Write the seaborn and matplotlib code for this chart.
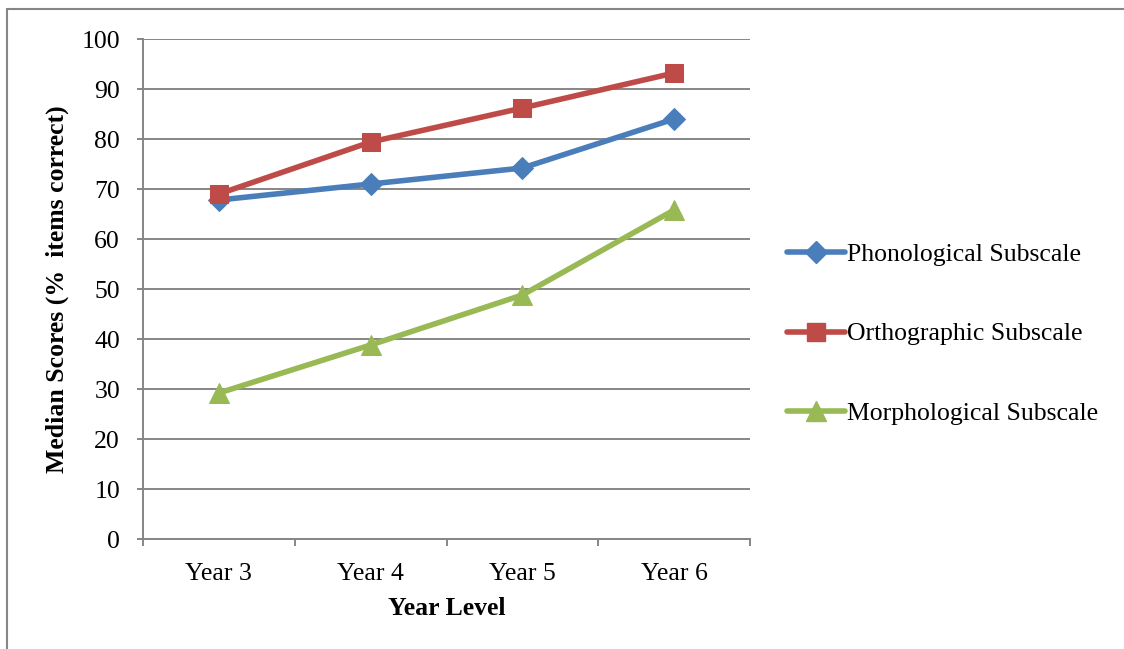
import matplotlib
matplotlib.use("Agg")
import matplotlib.pyplot as plt
from matplotlib.lines import Line2D
import numpy as np
import pandas as pd
import seaborn as sns

years = ["Year 3", "Year 4", "Year 5", "Year 6"]
phonological = [67.8, 71.0, 74.2, 84.0]
orthographic = [69.0, 79.4, 86.2, 93.2]
morphological = [29.2, 38.8, 48.8, 65.8]
series_names = ["Phonological Subscale", "Orthographic Subscale", "Morphological Subscale"]

df = pd.DataFrame({
    "Year": years * 3,
    "Score": phonological + orthographic + morphological,
    "Subscale": np.repeat(series_names, len(years)),
})

sns.set_theme(style="white")
plt.rcParams["font.family"] = ["Liberation Serif", "DejaVu Serif"]
plt.rcParams["text.color"] = "black"
plt.rcParams["axes.labelcolor"] = "black"
plt.rcParams["xtick.color"] = "black"
plt.rcParams["ytick.color"] = "black"

palette = {"Phonological Subscale": "#4A7EBB",
           "Orthographic Subscale": "#BE4B48",
           "Morphological Subscale": "#98B954"}
markers = {"Phonological Subscale": "D",
           "Orthographic Subscale": "s",
           "Morphological Subscale": "^"}
msizes = {"Phonological Subscale": 11,
          "Orthographic Subscale": 13,
          "Morphological Subscale": 15}
lw = 4.0
fs = 18.5

fig = plt.figure(figsize=(11.24, 6.49), dpi=100)
ax = fig.add_axes([143 / 1124, 1 - 539 / 649, (750 - 143) / 1124, 500 / 649])

grid_c = "#868686"
for name in series_names:
    sub = df[df["Subscale"] == name]
    sns.lineplot(data=sub, x="Year", y="Score", ax=ax, color=palette[name],
                 marker=markers[name], markersize=msizes[name],
                 markeredgecolor=palette[name], linewidth=lw, sort=False,
                 legend=False, zorder=3)

ax.set_xlim(-0.5, len(years) - 0.5)
ax.set_ylim(0, 100)
ax.set_yticks(np.arange(0, 101, 10))
ax.yaxis.grid(True, color=grid_c, linewidth=1.4)
ax.xaxis.grid(False)
ax.set_axisbelow(True)

# category boundary ticks on the x axis
ax.set_xticks(range(len(years)))
ax.set_xticklabels(years)
ax.set_xticks(np.arange(-0.5, len(years), 1.0), minor=True)
ax.tick_params(axis="x", which="major", length=0, pad=17, labelsize=fs,
               labelcolor="black")
ax.tick_params(axis="x", which="minor", length=5, width=1.4, color=grid_c,
               direction="out", bottom=True)
ax.tick_params(axis="y", which="major", length=4.5, width=1.4, color=grid_c,
               direction="out", left=True, pad=12, labelsize=fs,
               labelcolor="black")

for side in ["top", "right"]:
    ax.spines[side].set_visible(False)
for side in ["left", "bottom"]:
    ax.spines[side].set_color(grid_c)
    ax.spines[side].set_linewidth(1.4)

ax.set_xlabel("Year Level", fontsize=fs, fontweight="bold", labelpad=9,
              color="black")
ax.set_ylabel("Median Scores (%  items correct)", fontsize=fs,
              fontweight="bold", labelpad=9, color="black")

handles = [Line2D([0], [0], color=palette[n], marker=markers[n],
                  markersize=msizes[n], linewidth=lw,
                  markeredgecolor=palette[n]) for n in series_names]
fig.legend(handles, series_names, loc="center left",
           bbox_to_anchor=(764 / 1124, 1 - 334 / 649), frameon=False,
           fontsize=fs, handlelength=2.25, handletextpad=0.08,
           labelspacing=2.2, labelcolor="black")

# chart area border
fig.add_artist(Line2D([7 / 1124, 7 / 1124], [0, 1 - 9 / 649],
                      transform=fig.transFigure, color=grid_c, linewidth=1.5))
fig.add_artist(Line2D([7 / 1124, 1], [1 - 9 / 649, 1 - 9 / 649],
                      transform=fig.transFigure, color=grid_c, linewidth=1.5))

fig.savefig("out.png", dpi=100, facecolor="white")
